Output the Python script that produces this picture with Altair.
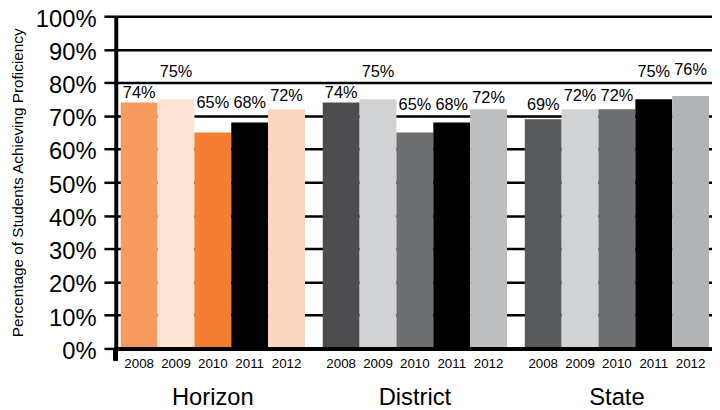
import altair as alt
import pandas as pd

groups = ["Horizon", "District", "State"]
years = ["2008", "2009", "2010", "2011", "2012"]
horizon = [74, 75, 65, 68, 72]
district = [74, 75, 65, 68, 72]
state = [69, 72, 72, 75, 76]

# heights (in percent units) at which the value labels sit in the original
horizon_lbl = [75.4, 81.6, 72.4, 72.4, 74.6]
district_lbl = [75.4, 81.6, 71.9, 71.9, 73.8]
state_lbl = [71.9, 74.4, 74.4, 81.8, 82.3]

horizon_colors = ["#F69A5E", "#FCE4D6", "#F47F32", "#000000", "#FBD6BE"]
district_colors = ["#4D4D4F", "#D1D2D4", "#6D6E71", "#000000", "#BCBEC0"]
state_colors = ["#58595B", "#D1D3D4", "#6D6E71", "#000000", "#B1B3B6"]

FONT = "Liberation Sans"

rows = []
keys, cols = [], []
for g, vals, lbls, cl in [
    ("Horizon", horizon, horizon_lbl, horizon_colors),
    ("District", district, district_lbl, district_colors),
    ("State", state, state_lbl, state_colors),
]:
    for y, v, l, c in zip(years, vals, lbls, cl):
        k = f"{g}-{y}"
        rows.append({"group": g, "year": y, "value": v, "lbl": l, "key": k,
                     "txt": f"{v}%"})
        keys.append(k)
        cols.append(c)
df = pd.DataFrame(rows)

W, H = 603, 336

x_enc = alt.X(
    "group:N",
    sort=groups,
    scale=alt.Scale(paddingInner=0.088, paddingOuter=0.0196, align=0.625),
    axis=alt.Axis(
        title=None,
        ticks=False,
        domain=True,
        domainColor="#000000",
        domainWidth=4,
        labelFontSize=24,
        labelFont=FONT,
        labelColor="#000000",
        labelPadding=38,
        labelAngle=0,
        zindex=1,
    ),
)
xo_enc = alt.XOffset("year:N", sort=years, scale=alt.Scale(paddingInner=0, paddingOuter=0))

y_axis = alt.Axis(
    title="Percentage of Students Achieving Proficiency",
    values=list(range(0, 101, 10)),
    labelExpr="datum.value + '%'",
    labelOverlap=False,
)

base = alt.Chart(df)

bars = base.mark_bar(stroke=None).encode(
    x=x_enc,
    xOffset=xo_enc,
    y=alt.Y("value:Q", scale=alt.Scale(domain=[0, 100], nice=False), axis=y_axis),
    color=alt.Color("key:N", scale=alt.Scale(domain=keys, range=cols), legend=None),
)

value_labels = base.mark_text(
    font=FONT, fontSize=16.5, color="#000000", baseline="alphabetic", align="center"
).encode(
    x=alt.X("group:N", sort=groups),
    xOffset=alt.XOffset("year:N", sort=years),
    y=alt.Y("lbl:Q", axis=y_axis),
    text="txt:N",
)

year_labels = base.mark_text(
    font=FONT, fontSize=13.5, color="#000000", baseline="alphabetic", align="center", dy=20
).encode(
    x=alt.X("group:N", sort=groups),
    xOffset=alt.XOffset("year:N", sort=years),
    y=alt.Y(datum=0, axis=y_axis),
    text="year:N",
)

axis_ext = base.mark_rule(color="#000000", strokeWidth=4).encode(
    x=alt.value(0), y=alt.Y(datum=0, axis=y_axis), y2=alt.value(H + 12)
)

chart = (
    alt.layer(bars, value_labels, year_labels, axis_ext)
    .properties(
        width=W,
        height=H,
        autosize="none",
        padding={"left": 109, "top": 6, "right": 0, "bottom": 62},
        background="#ffffff",
    )
    .configure_view(stroke=None)
    .configure_axisY(
        titleFont=FONT,
        titleFontSize=15.5,
        titleFontWeight="normal",
        titleColor="#000000",
        titlePadding=10,
        labelFont=FONT,
        labelFontSize=24,
        labelColor="#000000",
        labelPadding=8,
        labelOffset=3,
        labelOverlap=False,
        tickColor="#000000",
        tickSize=12,
        tickWidth=2.5,
        grid=True,
        gridColor="#000000",
        gridWidth=2.5,
        gridOpacity=1,
        domainColor="#000000",
        domainWidth=4,
    )
)

chart.save("out.html", embed_options={"renderer": "svg", "actions": False})
